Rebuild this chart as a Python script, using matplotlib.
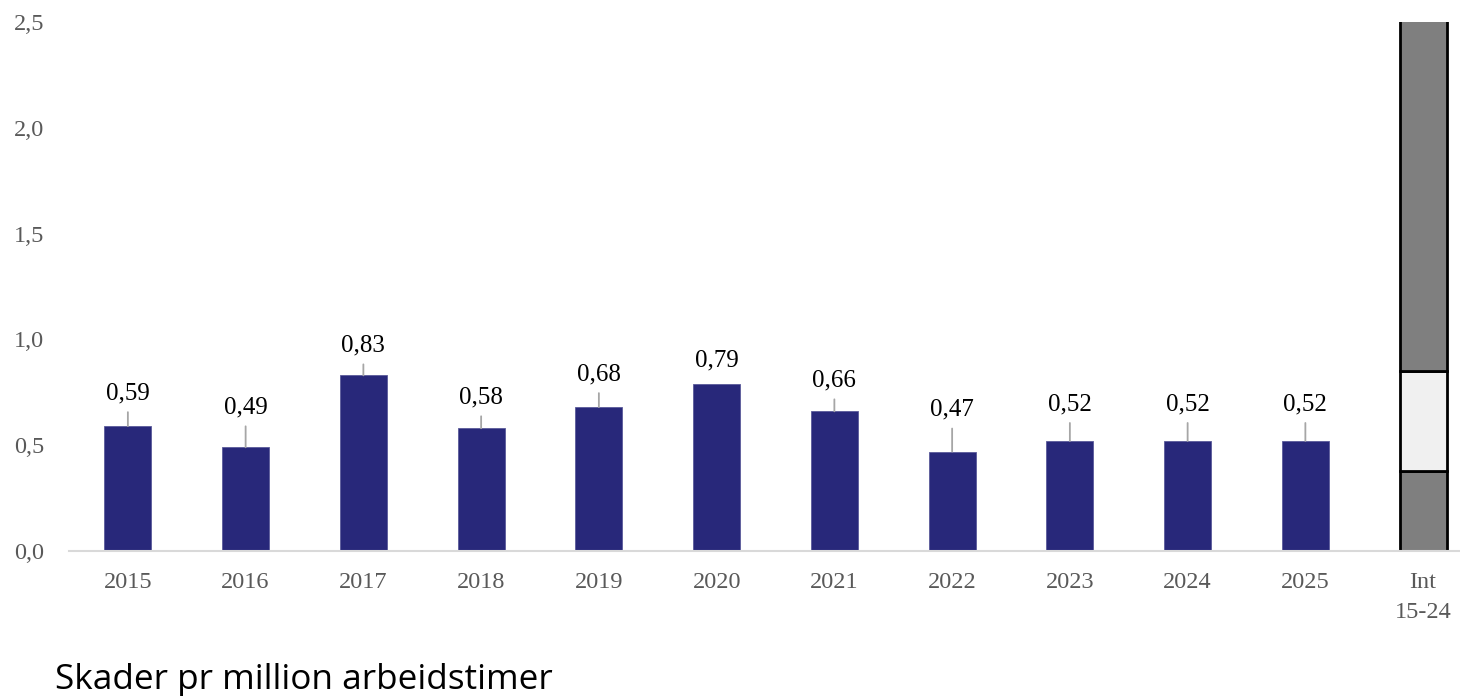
import matplotlib
matplotlib.use("Agg")
import matplotlib.pyplot as plt

# data
years = ["2015", "2016", "2017", "2018", "2019", "2020", "2021", "2022", "2023", "2024", "2025"]
values = [0.59, 0.49, 0.83, 0.58, 0.68, 0.79, 0.66, 0.47, 0.52, 0.52, 0.52]
int_label = "Int\n15-24"
int_low = 0.38     # lower edge of the international range
int_high = 0.85    # upper edge of the international range
y_max = 2.5
y_ticks = [0.0, 0.5, 1.0, 1.5, 2.0, 2.5]

# how far (pixels) each value label sits above its bar
label_offsets = [33, 40, 30, 31, 33, 23, 31, 42, 37, 37, 37]

navy = "#28287A"
dark_grey = "#7F7F7F"
light_grey = "#F0F0F0"
tick_grey = "#595959"

fig = plt.figure(figsize=(14.6, 6.96), dpi=100)
ax = fig.add_axes([69 / 1460, 145 / 696, 1413 / 1460, 529 / 696])

x = list(range(len(years)))
ax.bar(x, values, width=0.4, color=navy, edgecolor="#5A5A9A", linewidth=0.6, zorder=2)

# stacked grey column for the international interval (top runs past the frame)
xi = len(years)
ax.bar(xi, int_low, width=0.4, color=dark_grey, edgecolor="black", linewidth=2, zorder=2)
ax.bar(xi, int_high - int_low, bottom=int_low, width=0.4, color=light_grey,
       edgecolor="black", linewidth=2, zorder=2)
ax.bar(xi, y_max + 0.1 - int_high, bottom=int_high, width=0.4, color=dark_grey,
       edgecolor="black", linewidth=2, zorder=2)

# value labels with small leader lines
for xx, v, off in zip(x, values, label_offsets):
    ax.annotate(f"{v:.2f}".replace(".", ","), xy=(xx, v), xytext=(0, off * 0.72),
                textcoords="offset points", ha="center", va="center",
                fontsize=18, family="Liberation Serif", color="black")
    if off > 28:
        ax.annotate("", xy=(xx, v), xytext=(0, (off - 19) * 0.72),
                    textcoords="offset points",
                    arrowprops=dict(arrowstyle="-", color="#A6A6A6", lw=1.3,
                                    shrinkA=0, shrinkB=0))

ax.set_xlim(-0.5, len(years) + 0.5)
ax.set_ylim(0, y_max)
ax.set_xticks(x + [xi])
ax.set_xticklabels(years + [int_label])
ax.set_yticks(y_ticks)
ax.set_yticklabels([f"{t:.1f}".replace(".", ",") for t in y_ticks])

for lab in ax.get_xticklabels() + ax.get_yticklabels():
    lab.set_family("Liberation Serif")
    lab.set_fontsize(17.5)
    lab.set_color(tick_grey)
for lab in ax.get_xticklabels():
    lab.set_linespacing(1.55)

ax.tick_params(axis="x", length=0, pad=15)
ax.tick_params(axis="y", length=0, pad=18)

for side in ["top", "right", "left"]:
    ax.spines[side].set_visible(False)
ax.spines["bottom"].set_color("#D9D9D9")
ax.spines["bottom"].set_linewidth(1.5)
ax.spines["bottom"].set_zorder(3)

fig.text(55 / 1460, 1 - 680 / 696, "Skader pr million arbeidstimer",
         fontsize=25.3, family="Open Sans", color="black", va="center", ha="left")

fig.savefig("out.png", dpi=100)
